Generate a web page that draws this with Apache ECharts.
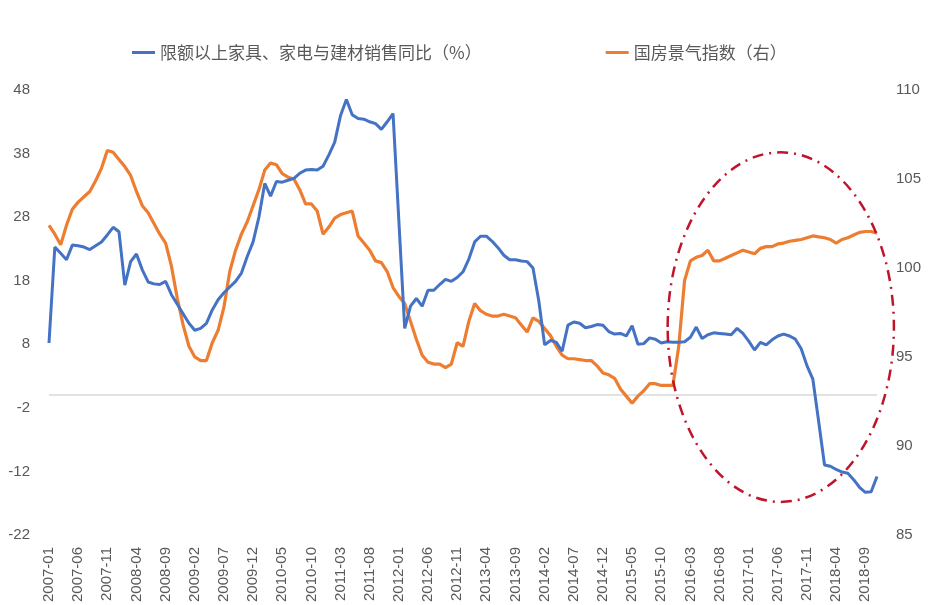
<!DOCTYPE html>
<html>
<head>
<meta charset="utf-8">
<script src="https://cdn.jsdelivr.net/npm/echarts@6/dist/echarts.min.js"></script>
<style>
html,body{margin:0;padding:0;background:#fff;}
#c{width:932px;height:605px;}
</style>
</head>
<body>
<div id="c"></div>
<script>
// ---------- data ----------
const startYear = 2007, startMonth = 1, monthCount = 143;
const categories = [];
for (let k = 0; k < monthCount; k++) {
  const m = startMonth - 1 + k;
  const y = startYear + Math.floor(m / 12);
  const mm = (m % 12) + 1;
  categories.push(y + '-' + (mm < 10 ? '0' + mm : mm));
}

const seriesNames = ['限额以上家具、家电与建材销售同比（%）', '国房景气指数（右）'];

// 限额以上家具、家电与建材销售同比 (%), left axis
const salesYoY = [
  8.2, 23.3, 22.3, 21.3, 23.6, 23.5, 23.3, 22.9, 23.5, 24.1, 25.2, 26.4,
  25.7, 17.3, 21.0, 22.2, 19.7, 17.8, 17.5, 17.4, 17.9, 15.8, 14.3, 12.8,
  11.3, 10.2, 10.5, 11.3, 13.4, 15.0, 16.1, 17.0, 17.9, 19.2, 21.8, 24.1,
  28.0, 33.3, 31.3, 33.6, 33.5, 33.8, 34.1, 34.9, 35.4, 35.5, 35.4, 36.0,
  37.8, 39.8, 44.0, 46.5, 44.1, 43.5, 43.4, 43.0, 42.7, 41.8, 43.0, 44.3,
  27.4, 10.5, 14.0, 15.2, 14.0, 16.5, 16.5, 17.4, 18.2, 17.9, 18.5, 19.4,
  21.4, 24.1, 25.0, 25.0, 24.2, 23.2, 22.0, 21.3, 21.3, 21.1, 21.0, 20.0,
  14.8, 7.9, 8.6, 8.3, 6.9, 11.0, 11.5, 11.3, 10.6, 10.8, 11.1, 11.0,
  10.0, 9.6, 9.7, 9.3, 10.9, 8.0, 8.1, 9.0, 8.8, 8.2, 8.4, 8.3,
  8.3, 8.4, 9.1, 10.7, 8.9, 9.5, 9.8, 9.7, 9.6, 9.5, 10.5, 9.7,
  8.5, 7.1, 8.3, 7.9, 8.7, 9.3, 9.6, 9.3, 8.8, 7.3, 4.6, 2.5,
  -4.2, -11.0, -11.2, -11.7, -12.1, -12.3, -13.3, -14.5, -15.3, -15.2, -12.8
];

// 国房景气指数, right axis
const climateIndex = [
  102.4, 101.9, 101.3, 102.4, 103.3, 103.7, 104.0, 104.3, 104.9, 105.6, 106.6, 106.5,
  106.1, 105.7, 105.2, 104.3, 103.5, 103.1, 102.5, 101.9, 101.4, 100.1, 98.3, 96.8,
  95.6, 95.0, 94.8, 94.8, 95.8, 96.5, 97.8, 99.8, 101.0, 101.9, 102.6, 103.5,
  104.4, 105.5, 105.9, 105.8, 105.3, 105.1, 105.0, 104.4, 103.6, 103.6, 103.2, 101.9,
  102.3, 102.8, 103.0, 103.1, 103.2, 101.8, 101.4, 101.0, 100.4, 100.3, 99.8, 98.9,
  98.4, 98.0, 97.0, 96.0, 95.1, 94.7, 94.6, 94.6, 94.4, 94.6, 95.8, 95.6,
  97.0, 98.0, 97.6, 97.4, 97.3, 97.3, 97.4, 97.3, 97.2, 96.8, 96.4, 97.2,
  97.0, 96.6, 96.2, 95.6, 95.1, 94.9, 94.9, 94.85, 94.8, 94.8, 94.5, 94.1,
  94.0, 93.8, 93.2, 92.8, 92.4, 92.8, 93.1, 93.5, 93.5, 93.4, 93.4, 93.4,
  95.6, 99.3, 100.4, 100.6, 100.7, 101.0, 100.4, 100.4, 100.55, 100.7, 100.85, 101.0,
  100.9, 100.8, 101.1, 101.2, 101.2, 101.35, 101.4, 101.5, 101.55, 101.6, 101.7, 101.8,
  101.75, 101.7, 101.6, 101.4, 101.6, 101.7, 101.85, 102.0, 102.05, 102.05, 101.95
];

const leftTicks = { min: -22, max: 48, interval: 10 };
const rightTicks = { min: 85, max: 110, interval: 5 };

// annotation ellipse (data coords: center category, center value, half-width in months, half-height in left-axis units)
const ellipseCenterCat = '2017-07';
const ellipseCenterVal = 10.7;
const ellipseHalfMonths = 19.4;
const ellipseHalfUnits = 27.5;

// ---------- chart ----------
const chart = echarts.init(document.getElementById('c'), null, { renderer: 'canvas' });
const txt = '#595959';
const font = '"Noto Sans CJK SC", "Noto Sans", sans-serif';

const option = {
  animation: false,
  backgroundColor: '#ffffff',
  textStyle: { fontFamily: font },
  legend: {
    top: 39,
    left: 127,
    itemGap: 124,
    icon: 'rect',
    itemWidth: 23,
    itemHeight: 3,
    textStyle: { color: txt, fontSize: 17, fontFamily: font },
    data: seriesNames
  },
  grid: { left: 49, right: 55, top: 90, bottom: 70, containLabel: false },
  xAxis: {
    type: 'category',
    data: categories,
    boundaryGap: false,
    axisLine: { show: false },
    axisTick: { show: false },
    axisLabel: {
      interval: 4,
      rotate: 90,
      margin: 12,
      color: txt,
      fontSize: 15,
      fontFamily: 'Liberation Sans, sans-serif'
    },
    splitLine: { show: false }
  },
  yAxis: [
    {
      type: 'value',
      min: leftTicks.min, max: leftTicks.max, interval: leftTicks.interval,
      axisLine: { show: false }, axisTick: { show: false },
      splitLine: { show: false },
      axisLabel: { color: txt, fontSize: 15, margin: 19, fontFamily: 'Liberation Sans, sans-serif' }
    },
    {
      type: 'value',
      min: rightTicks.min, max: rightTicks.max, interval: rightTicks.interval,
      axisLine: { show: false }, axisTick: { show: false },
      splitLine: { show: false },
      axisLabel: { color: txt, fontSize: 15, margin: 19, fontFamily: 'Liberation Sans, sans-serif' }
    }
  ],
  series: [
    {
      name: seriesNames[0],
      type: 'line',
      yAxisIndex: 0,
      data: salesYoY,
      showSymbol: false,
      symbol: 'none',
      z: 3,
      lineStyle: { color: '#4472C4', width: 3 },
      itemStyle: { color: '#4472C4' },
      markLine: {
        silent: true,
        symbol: 'none',
        label: { show: false },
        lineStyle: { color: '#D9D9D9', width: 1.5, type: 'solid' },
        data: [{ yAxis: 0 }],
        z: 1
      }
    },
    {
      name: seriesNames[1],
      type: 'line',
      yAxisIndex: 1,
      data: climateIndex,
      showSymbol: false,
      symbol: 'none',
      z: 2,
      lineStyle: { color: '#ED7D31', width: 3.2 },
      itemStyle: { color: '#ED7D31' }
    }
  ]
};
chart.setOption(option);

// ellipse annotation positioned through the axes
const ci = categories.indexOf(ellipseCenterCat);
const p0 = chart.convertToPixel({ gridIndex: 0 }, [ci, ellipseCenterVal]);
const pA = chart.convertToPixel({ gridIndex: 0 }, [ci + 1, ellipseCenterVal + ellipseHalfUnits]);
const step = pA[0] - p0[0];
chart.setOption({
  graphic: [{
    type: 'ellipse',
    silent: true,
    z: 10,
    shape: {
      cx: p0[0] - 0.5 * step,
      cy: p0[1],
      rx: ellipseHalfMonths * step,
      ry: Math.abs(p0[1] - pA[1])
    },
    style: {
      fill: null,
      stroke: '#C0142B',
      lineWidth: 2.5,
      lineDash: [11, 6, 2, 6]
    }
  }]
});
</script>
</body>
</html>
